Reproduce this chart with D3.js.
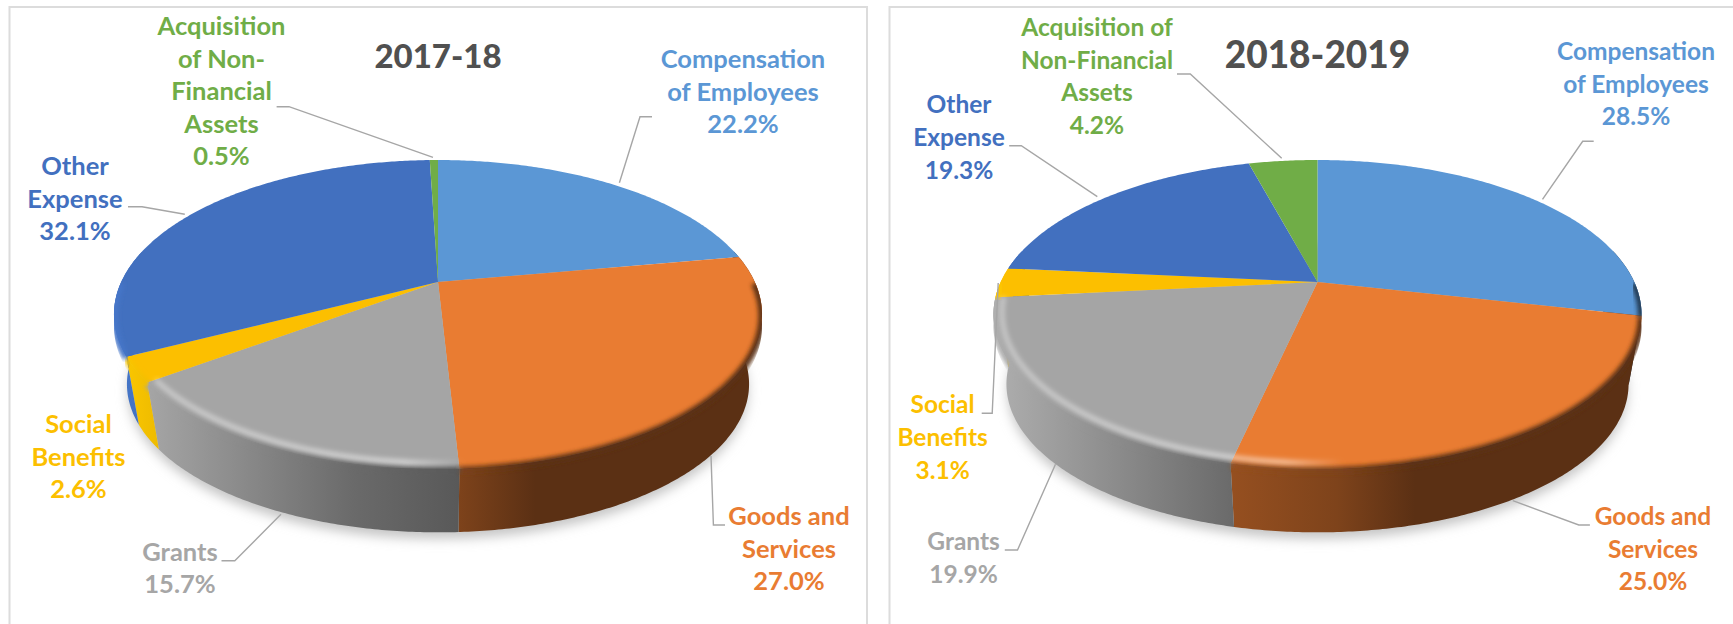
<!DOCTYPE html>
<html lang="en">

<head>
  <title>Expenditure by category</title>
  <script src="https://d3js.org/d3.v7.min.js"></script>
  <style>
    body {
      margin: 0;
      padding: 0;
      overflow: hidden;
      background: #fff;
    }

    text {
      font-family: Lato, "Open Sans", sans-serif;
      font-weight: 700;
      text-anchor: middle;
    }

    .title {
      font-weight: 900;
      fill: #505050;
    }

    .leader {
      fill: none;
      stroke: #a6a6a6;
      stroke-width: 1.4px;
    }
  </style>
</head>

<body>
  <svg id="chart" width="1733" height="624"></svg>

  <script>
    const categories = ["Compensation of Employees", "Goods and Services", "Grants", "Social Benefits", "Other Expense", "Acquisition of Non-Financial Assets"];
    const colors = ["#5b97d5", "#e97c32", "#a5a5a5", "#fcbf00", "#4270bf", "#70ad47"];
    const values1718 = [22.2, 27.0, 15.7, 2.6, 32.1, 0.5];
    const values1819 = [28.5, 25.0, 19.9, 3.1, 19.3, 4.2];

    // label wrapping differs between the two charts
    const lines1718 = [["Compensation", "of Employees"], ["Goods and", "Services"], ["Grants"], ["Social", "Benefits"], ["Other", "Expense"], ["Acquisition", "of Non-", "Financial", "Assets"]];
    const lines1819 = [["Compensation", "of Employees"], ["Goods and", "Services"], ["Grants"], ["Social", "Benefits"], ["Other", "Expense"], ["Acquisition of", "Non-Financial", "Assets"]];

    // layout: label anchors [center x, first baseline, line height]
    const labelPos1718 = [[743, 68, 32.6], [789, 525, 32.6], [180, 560.7, 32.6], [78.5, 433, 32.6], [75, 175, 32.6], [221.5, 35, 32.6]];
    const labelPos1819 = [[1636, 60, 32.6], [1653, 525, 32.6], [963.6, 550, 32.6], [942.6, 413.3, 32.6], [959, 112.7, 33], [1097, 36, 32.6]];

    // layout: leader lines
    const leaders1718 = [
      [[652, 116.7], [640, 116.7], [619.4, 182.7]],
      [[711, 456], [713.4, 525], [725, 525]],
      [[281, 514.3], [234.8, 560.7], [221.5, 560.7]],
      [[128, 206.7], [142, 206.7], [184.8, 214.3]],
      [[276.6, 106.7], [289, 106.7], [433, 157.3]]
    ];
    const leaders1819 = [
      [[1593.7, 141.3], [1582.7, 141.3], [1542.5, 199.3]],
      [[1512.8, 500.7], [1578.8, 525], [1589.9, 525]],
      [[1055.5, 464.3], [1017.5, 550], [1004.8, 550]],
      [[981.7, 413.3], [992.2, 413.3], [998.2, 283]],
      [[1009.2, 145.7], [1021.3, 145.7], [1097.3, 196.7]],
      [[1177, 74], [1190.3, 74], [1281.7, 158.3]]
    ];

    const svg = d3.select("#chart");
    svg.append("rect").attr("width", 1733).attr("height", 624).attr("fill", "#fff");

    const defs = svg.append("defs");
    defs.append("filter").attr("id", "shadowBlur").attr("x", "-10%").attr("y", "-10%").attr("width", "120%").attr("height", "120%")
      .append("feGaussianBlur").attr("stdDeviation", 6);
    defs.append("filter").attr("id", "edgeBlur").attr("x", "-5%").attr("y", "-5%").attr("width", "110%").attr("height", "110%")
      .append("feGaussianBlur").attr("stdDeviation", 2.2);
    defs.append("filter").attr("id", "glowBlur").attr("x", "-5%").attr("y", "-5%").attr("width", "110%").attr("height", "110%")
      .append("feGaussianBlur").attr("stdDeviation", 2.6);

    // panel borders
    svg.append("path").attr("fill", "none").attr("stroke", "#dcdcdc").attr("stroke-width", 2)
      .attr("d", "M9.5,624V7H867V624");
    svg.append("path").attr("fill", "none").attr("stroke", "#dcdcdc").attr("stroke-width", 2)
      .attr("d", "M889.5,624V7H1733");

    // brightness of the pie wall, left to right across the pie
    const wallStops = [[0, 1.06], [0.37, 0.64], [0.53, 0.54], [0.65, 0.39], [1, 0.39]];

    function shade(color, f) {
      const c = d3.rgb(color);
      return d3.rgb(Math.min(255, c.r * f), Math.min(255, c.g * f), Math.min(255, c.b * f)).formatHex();
    }

    function drawPie(id, cx, values, lines, labelPos, leaders, title, titleSize, labelSize) {
      const cy = 282, k = 0.21, B = 147.6, A = 316.8, wall = 71, shrink = 0.04;
      const g = svg.append("g");
      const line = d3.line();

      // project a point of the tilted disc to the screen
      const project = (a, r, h) => {
        const u = r * Math.sin(a), v = -r * Math.cos(a), d = 1 - k * v, s = 1 - shrink * h;
        return [cx + A * u * s / d, cy + wall * h + B * v * s / d];
      };
      const rim = (a0, a1, r, h) => d3.range(a0, a1, 0.01).concat([a1]).map(a => project(a, r, h));

      const arcs = d3.pie().sort(null).value(d => d)(values);
      const full = Math.PI * 2;

      // only the front part of the rim shows a wall
      const clampFront = (from, to) => arcs
        .filter(d => d.endAngle > from && d.startAngle < to)
        .map(d => ({ index: d.index, a0: Math.max(d.startAngle, from), a1: Math.min(d.endAngle, to) }));
      const front = clampFront(Math.PI * 0.43, Math.PI * 1.57);
      const edges = clampFront(Math.PI * 0.5, Math.PI * 1.5);

      g.append("path")
        .attr("d", line(rim(0, full, 1, 1.1)) + "Z")
        .attr("fill", "#c4c4c4")
        .attr("filter", "url(#shadowBlur)");

      // one wall gradient per category
      colors.forEach((color, i) => {
        const grad = defs.append("linearGradient")
          .attr("id", `wall-${id}-${i}`)
          .attr("gradientUnits", "userSpaceOnUse")
          .attr("x1", cx - 324).attr("x2", cx + 324).attr("y1", 0).attr("y2", 0);
        wallStops.forEach(s => grad.append("stop").attr("offset", s[0]).attr("stop-color", shade(color, s[1])));
      });

      const glow = defs.append("linearGradient")
        .attr("id", `glow-${id}`)
        .attr("gradientUnits", "userSpaceOnUse")
        .attr("x1", cx - 324).attr("x2", cx + 324).attr("y1", 0).attr("y2", 0);
      [[0, 0.4], [0.45, 0.55], [0.54, 0]].forEach(s => glow.append("stop").attr("offset", s[0]).attr("stop-color", "#fff").attr("stop-opacity", s[1]));

      const clip = defs.append("clipPath").attr("id", `clip-${id}`);
      clip.append("path").attr("d", line(rim(0, full, 1, 0)) + "Z");
      clip.append("path").attr("d", line(rim(0, full, 1, 0).map(p => [p[0], p[1] + 12])) + "Z");

      // walls
      g.selectAll(".wall").data(front).enter().append("path")
        .attr("class", "wall")
        .attr("fill", d => `url(#wall-${id}-${d.index})`)
        .attr("d", d => line(rim(d.a0, d.a1, 1, 0).concat(rim(d.a0, d.a1, 1, 1).reverse())) + "Z");

      // top face
      g.selectAll(".face").data(arcs).enter().append("path")
        .attr("class", "face")
        .attr("fill", (d, i) => colors[i])
        .attr("d", d => line([[cx, cy]].concat(rim(d.startAngle, d.endAngle, 1, 0))) + "Z");

      // soft bevel on the rim, the highlight stops where the grey slice ends
      const bevel = g.append("g").attr("clip-path", `url(#clip-${id})`);
      bevel.selectAll(".edge").data(edges).enter().append("path")
        .attr("fill", "none")
        .attr("stroke", d => `url(#wall-${id}-${d.index})`)
        .attr("stroke-width", 7)
        .attr("filter", "url(#edgeBlur)")
        .attr("d", d => line(rim(d.a0, d.a1, 1, 0.02)));
      bevel.append("path")
        .attr("fill", "none")
        .attr("stroke", `url(#glow-${id})`)
        .attr("stroke-width", 5)
        .attr("filter", "url(#glowBlur)")
        .attr("d", line(rim(Math.PI * 0.93, arcs[2].endAngle, 0.975, 0)));

      g.selectAll(".leader").data(leaders).enter().append("path")
        .attr("class", "leader")
        .attr("d", d => line(d));

      categories.forEach((name, i) => {
        const [x, y, lh] = labelPos[i];
        const rows = lines[i].concat([values[i].toFixed(1) + "%"]);
        g.selectAll(null).data(rows).enter().append("text")
          .attr("class", "label")
          .attr("font-size", labelSize)
          .attr("x", x)
          .attr("y", (d, j) => y + j * lh)
          .attr("fill", colors[i] === "#a5a5a5" ? "#a6a6a6" : colors[i])
          .text(d => d);
      });

      g.append("text").attr("class", "title").attr("x", cx).attr("y", 67.7).attr("font-size", titleSize).text(title);
    }

    drawPie("a", 438, values1718, lines1718, labelPos1718, leaders1718, "2017-18", 33, 25.5);
    drawPie("b", 1317.5, values1819, lines1819, labelPos1819, leaders1819, "2018-2019", 37, 24.5);
  </script>
</body>

</html>
